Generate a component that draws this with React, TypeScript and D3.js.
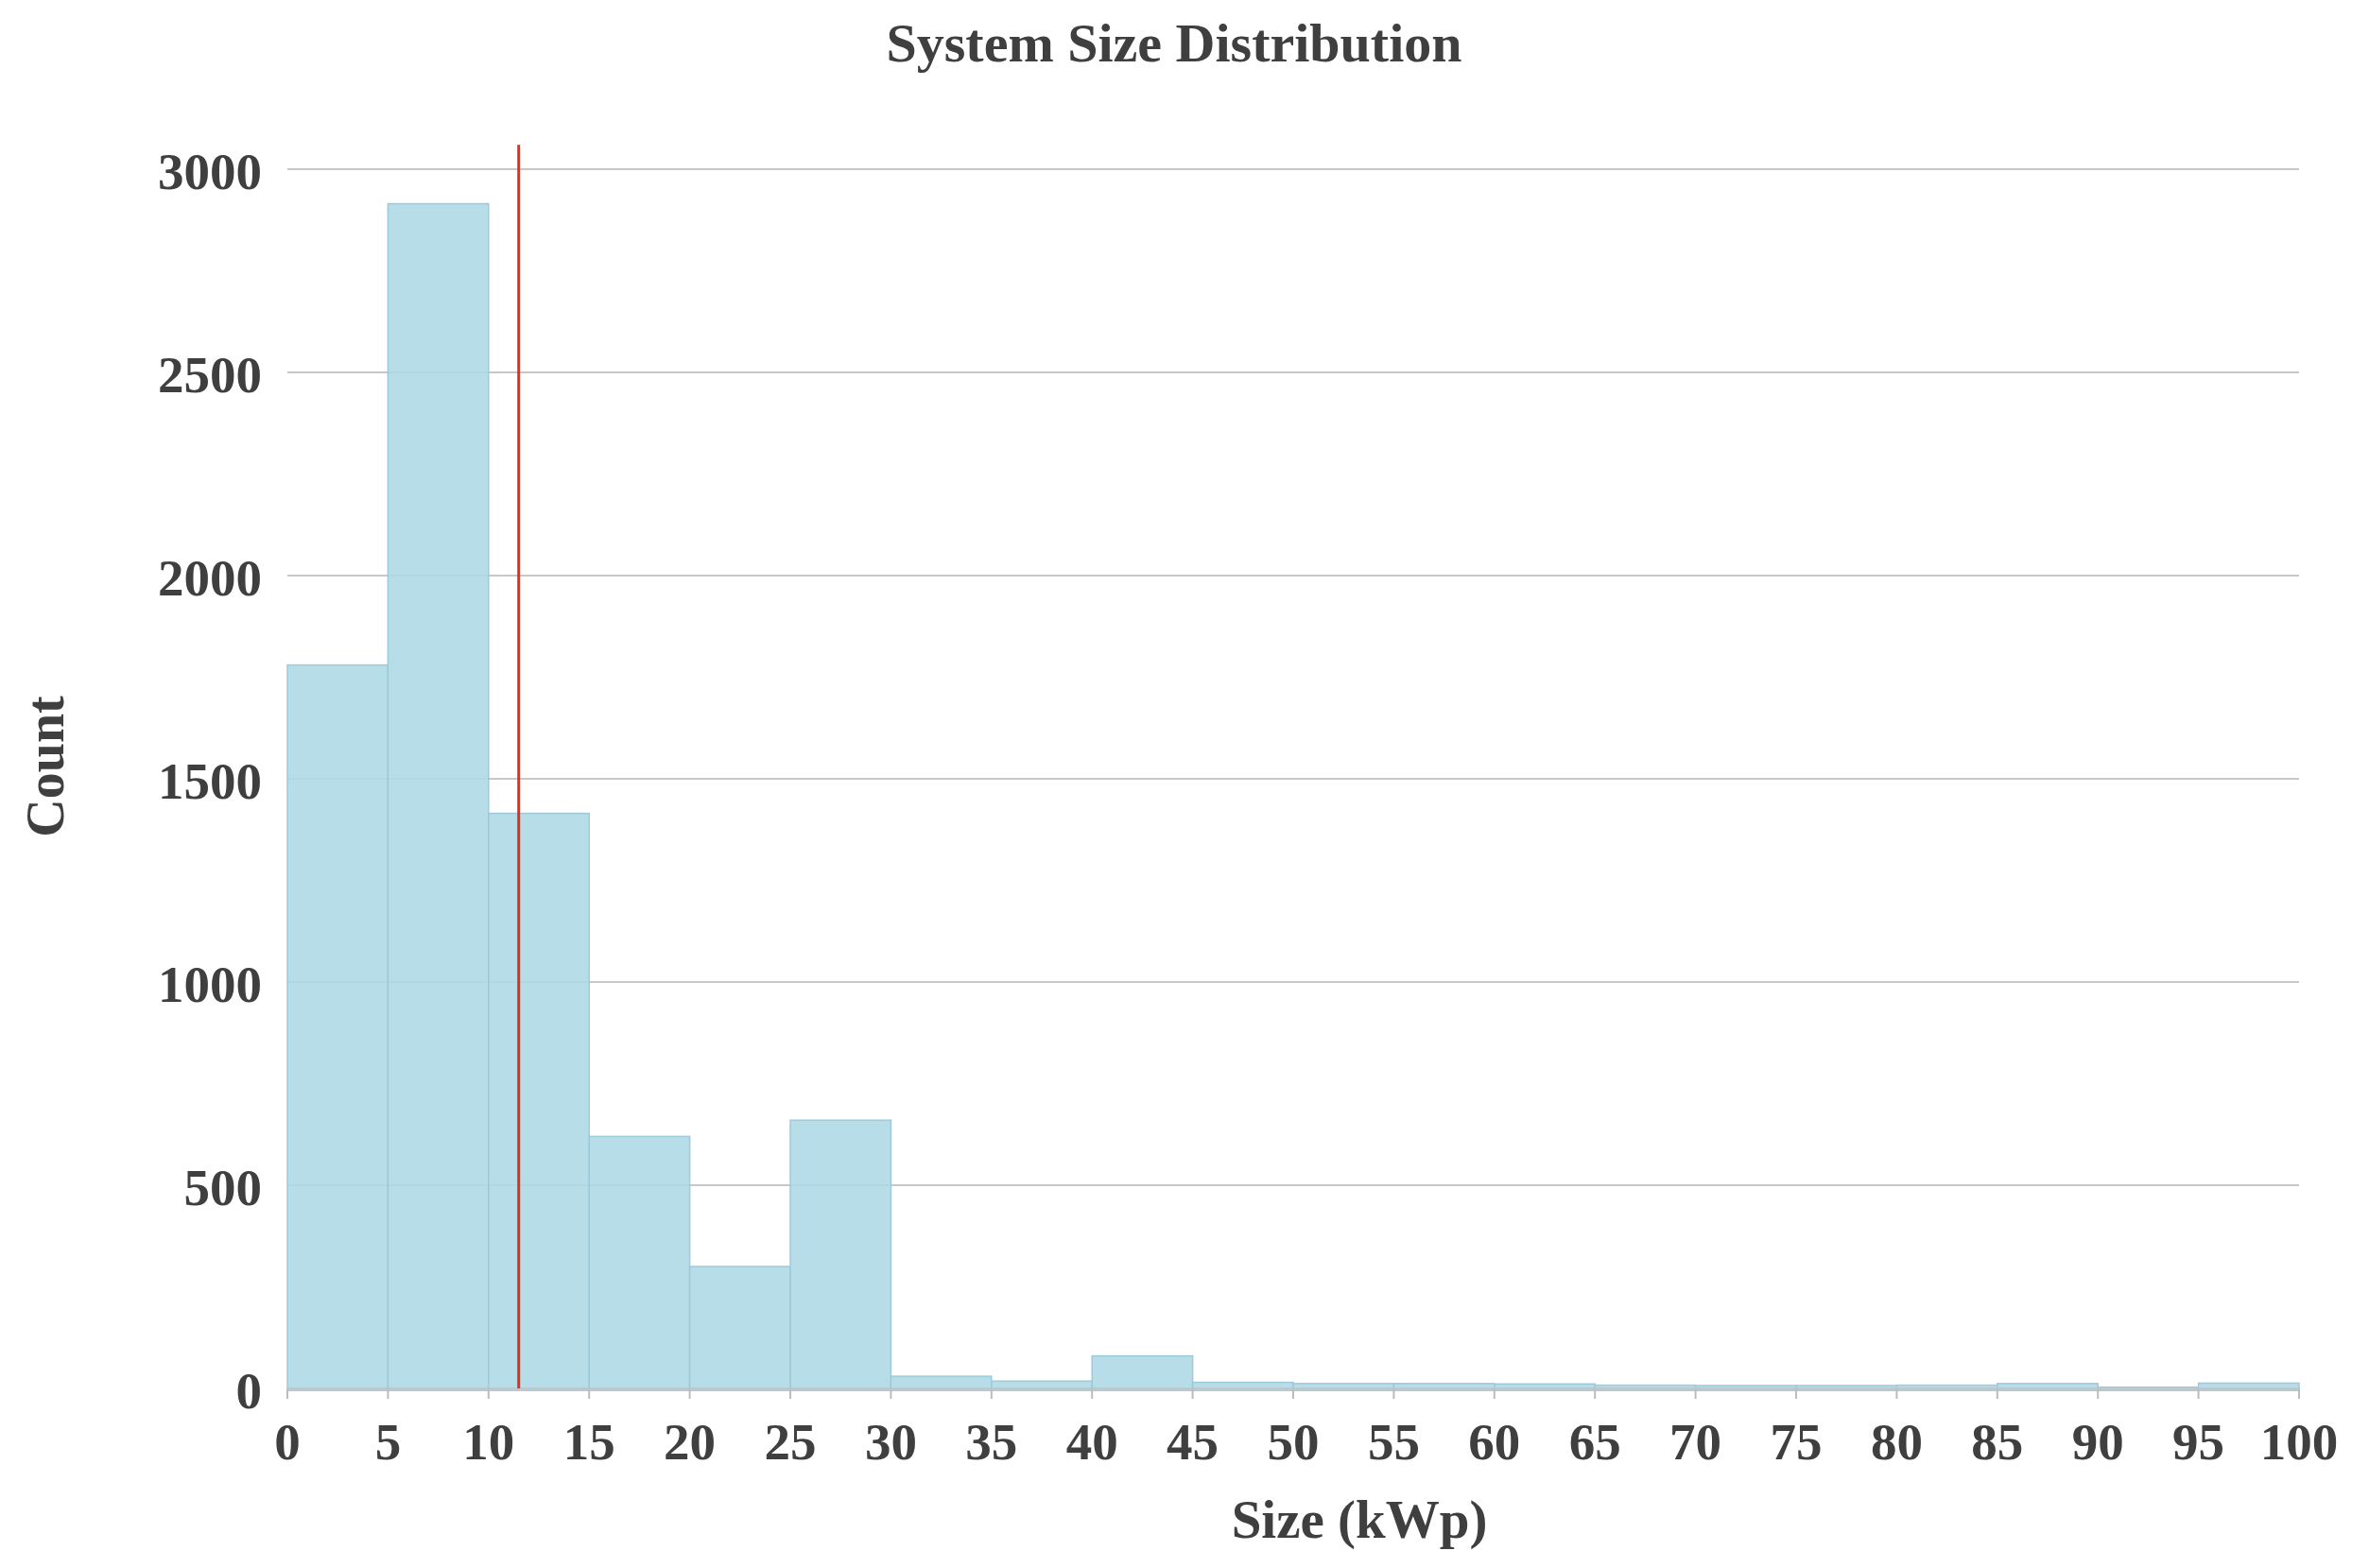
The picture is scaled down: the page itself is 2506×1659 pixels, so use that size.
import { useEffect, useRef } from 'react';
import * as d3 from 'd3';

// histogram bins (kWp), 5 wide
const binStarts = [0, 5, 10, 15, 20, 25, 30, 35, 40, 45, 50, 55, 60, 65, 70, 75, 80, 85, 90, 95];
const binWidth = 5;
const counts = [1780, 2915, 1415, 620, 300, 660, 30, 18, 80, 15, 12, 12, 11, 8, 7, 7, 8, 12, 3, 13];

const xTicks = d3.range(0, 101, 5);
const yTicks = [0, 500, 1000, 1500, 2000, 2500, 3000];
const meanSize = 11.5;

const W = 2506;
const H = 1659;
const textColor = '#3f3f3f';
const font = '"Liberation Serif", "Times New Roman", serif';

export default function App() {
  const svgRef = useRef<SVGSVGElement>(null);

  useEffect(() => {
    if (!svgRef.current) return;
    const svg = d3.select(svgRef.current);
    svg.selectAll('*').remove();

    const x = d3.scaleLinear().domain([0, 100]).range([304, 2432]);
    const y = d3.scaleLinear().domain([0, 3000]).range([1469, 179]);

    svg.append('rect').attr('width', W).attr('height', H).attr('fill', '#fff');

    // title
    svg.append('text')
      .attr('x', 1242).attr('y', 65)
      .attr('text-anchor', 'middle')
      .attr('font-family', font).attr('font-weight', 'bold')
      .attr('font-size', 58).attr('fill', textColor)
      .text('System Size Distribution');

    // gridlines
    svg.append('g').selectAll('line')
      .data(yTicks.filter(d => d > 0))
      .join('line')
      .attr('x1', x(0)).attr('x2', x(100))
      .attr('y1', d => y(d)).attr('y2', d => y(d))
      .attr('stroke', '#c8c8c8').attr('stroke-width', 2);

    // bars
    svg.append('g').selectAll('rect')
      .data(binStarts)
      .join('rect')
      .attr('x', d => x(d))
      .attr('width', d => x(d + binWidth) - x(d))
      .attr('y', (_, i) => y(counts[i]))
      .attr('height', (_, i) => y(0) - y(counts[i]))
      .attr('fill', '#add8e6').attr('fill-opacity', 0.88)
      .attr('stroke', '#9dcadb').attr('stroke-width', 1.5);

    // x axis baseline + ticks
    svg.append('line')
      .attr('x1', x(0)).attr('x2', x(100))
      .attr('y1', y(0) + 1).attr('y2', y(0) + 1)
      .attr('stroke', '#b8c9cf').attr('stroke-width', 4);

    svg.append('g').selectAll('line')
      .data(xTicks)
      .join('line')
      .attr('x1', d => x(d)).attr('x2', d => x(d))
      .attr('y1', y(0)).attr('y2', y(0) + 11)
      .attr('stroke', '#bdbdbd').attr('stroke-width', 2);

    svg.append('g').selectAll('text')
      .data(xTicks)
      .join('text')
      .attr('x', d => x(d)).attr('y', y(0) + 75)
      .attr('text-anchor', 'middle')
      .attr('font-family', font).attr('font-weight', 'bold')
      .attr('font-size', 55).attr('fill', textColor)
      .text(d => d);

    // y tick labels
    svg.append('g').selectAll('text')
      .data(yTicks)
      .join('text')
      .attr('x', 277).attr('y', d => y(d) + 21)
      .attr('text-anchor', 'end')
      .attr('font-family', font).attr('font-weight', 'bold')
      .attr('font-size', 55).attr('fill', textColor)
      .text(d => d);

    // mean line
    svg.append('line')
      .attr('x1', x(meanSize)).attr('x2', x(meanSize))
      .attr('y1', y(3060)).attr('y2', y(0))
      .attr('stroke', '#d8321e').attr('stroke-width', 3);

    // axis titles
    svg.append('text')
      .attr('x', 1438).attr('y', 1627)
      .attr('text-anchor', 'middle')
      .attr('font-family', font).attr('font-weight', 'bold')
      .attr('font-size', 57).attr('fill', textColor)
      .text('Size (kWp)');

    svg.append('text')
      .attr('transform', 'translate(67,811) rotate(-90)')
      .attr('text-anchor', 'middle')
      .attr('font-family', font).attr('font-weight', 'bold')
      .attr('font-size', 56).attr('fill', textColor)
      .text('Count');
  }, []);

  return (
    <>
      <style>{'body{margin:0}'}</style>
      <svg ref={svgRef} width={W} height={H} style={{ display: 'block' }} />
    </>
  );
}
